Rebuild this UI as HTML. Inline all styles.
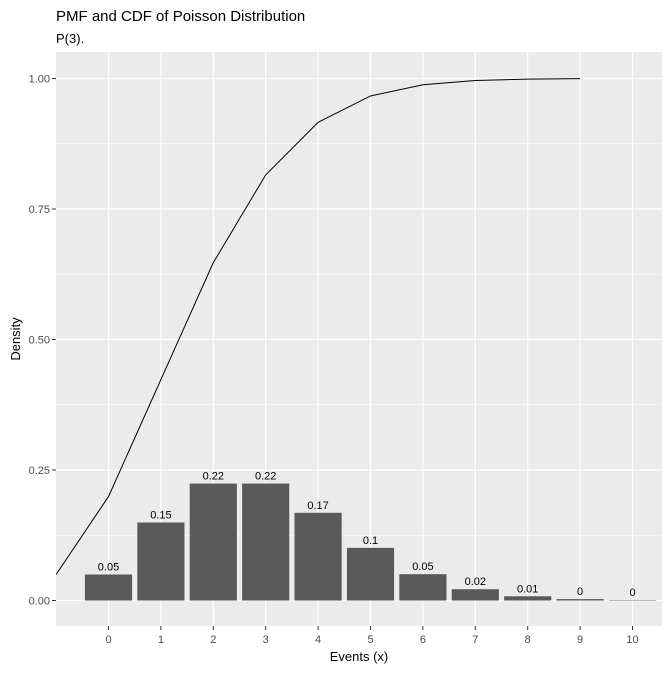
<!DOCTYPE html>
<html><head><meta charset="utf-8"><style>
body{margin:0;background:#fff;font-family:"Liberation Sans",sans-serif;}
</style></head><body>
<svg width="672" height="671" xmlns="http://www.w3.org/2000/svg" font-family="Liberation Sans, sans-serif">
<text x="56" y="21" font-size="15" fill="#000">PMF and CDF of Poisson Distribution</text>
<text x="56" y="43" font-size="13" fill="#000">P(3).</text>
<rect x="56" y="52" width="606" height="574" fill="#EBEBEB"/>
<g id="grid"></g>
<g id="bars"></g>
<g id="line"></g>
<g id="labels"></g>
<g id="axes"></g>
<text x="359" y="661" font-size="13" text-anchor="middle">Events (x)</text>
<text transform="translate(20,339) rotate(-90)" font-size="13" text-anchor="middle">Density</text>
</svg>
<script>
const categories=[0,1,2,3,4,5,6,7,8,9,10];
const pmf=[0.0498,0.1494,0.2240,0.2240,0.1680,0.1008,0.0504,0.0216,0.0081,0.0027,0.0008];
const pmfLabels=["0.05","0.15","0.22","0.22","0.17","0.1","0.05","0.02","0.01","0","0"];
const cdfX=[-1,0,1,2,3,4,5,6,7,8,9];
const cdf=[0.0498,0.1991,0.4232,0.6472,0.8153,0.9161,0.9665,0.9881,0.9962,0.9989,0.9997];
const yTicks=[0,0.25,0.5,0.75,1.0];
const yTickLabels=["0.00","0.25","0.50","0.75","1.00"];
const xTicks=[0,1,2,3,4,5,6,7,8,9,10];
const NS="http://www.w3.org/2000/svg";
const sx=v=>108.5+v*52.4;
const sy=v=>600.5-v*522;
function mk(tag,attrs,parent){const e=document.createElementNS(NS,tag);for(const k in attrs)e.setAttribute(k,attrs[k]);document.getElementById(parent).appendChild(e);return e;}
// grid
for(let i=0;i<yTicks.length-1;i++){const m=(yTicks[i]+yTicks[i+1])/2;
 const g=mk('line',{x1:56,x2:662,y1:sy(m),y2:sy(m),stroke:'#fff','stroke-width':0.6},'grid');
 
 }
yTicks.forEach(t=>{const g=mk('line',{x1:56,x2:662,y1:sy(t),y2:sy(t),stroke:'#fff','stroke-width':1.2},'grid');
 
 
 const tk=mk('line',{x1:52,x2:56,y1:sy(t),y2:sy(t),stroke:'#333','stroke-width':1},'axes');
 
 });
yTickLabels.forEach((l,i)=>{const t=mk('text',{x:50,y:sy(yTicks[i])+4,'font-size':11,fill:'#4D4D4D','text-anchor':'end'},'axes');t.textContent=l;
 
 });
xTicks.forEach(t=>{const g=mk('line',{x1:sx(t),x2:sx(t),y1:52,y2:626,stroke:'#fff','stroke-width':1.2},'grid');
 
 
 const tk=mk('line',{x1:sx(t),x2:sx(t),y1:626,y2:630,stroke:'#333','stroke-width':1},'axes');
 
 
 const tl=mk('text',{x:sx(t),y:643,'font-size':11,fill:'#4D4D4D','text-anchor':'middle'},'axes');tl.textContent=String(t);
 
 });
categories.forEach((c,i)=>{const w=0.9*52.4;const y=sy(pmf[i]);
 const b=mk('rect',{x:sx(c)-w/2,y:y,width:w,height:sy(0)-y,fill:'#595959'},'bars');
 
 
 const t=mk('text',{x:sx(c),y:y-4,'font-size':11,fill:'#000','text-anchor':'middle'},'labels');t.textContent=pmfLabels[i];
 
 });
const pts=cdfX.map((x,i)=>sx(x)+','+sy(cdf[i])).join(' ');
const pl=mk('polyline',{points:pts,fill:'none',stroke:'#000','stroke-width':1},'line');


</script>
</body></html>
